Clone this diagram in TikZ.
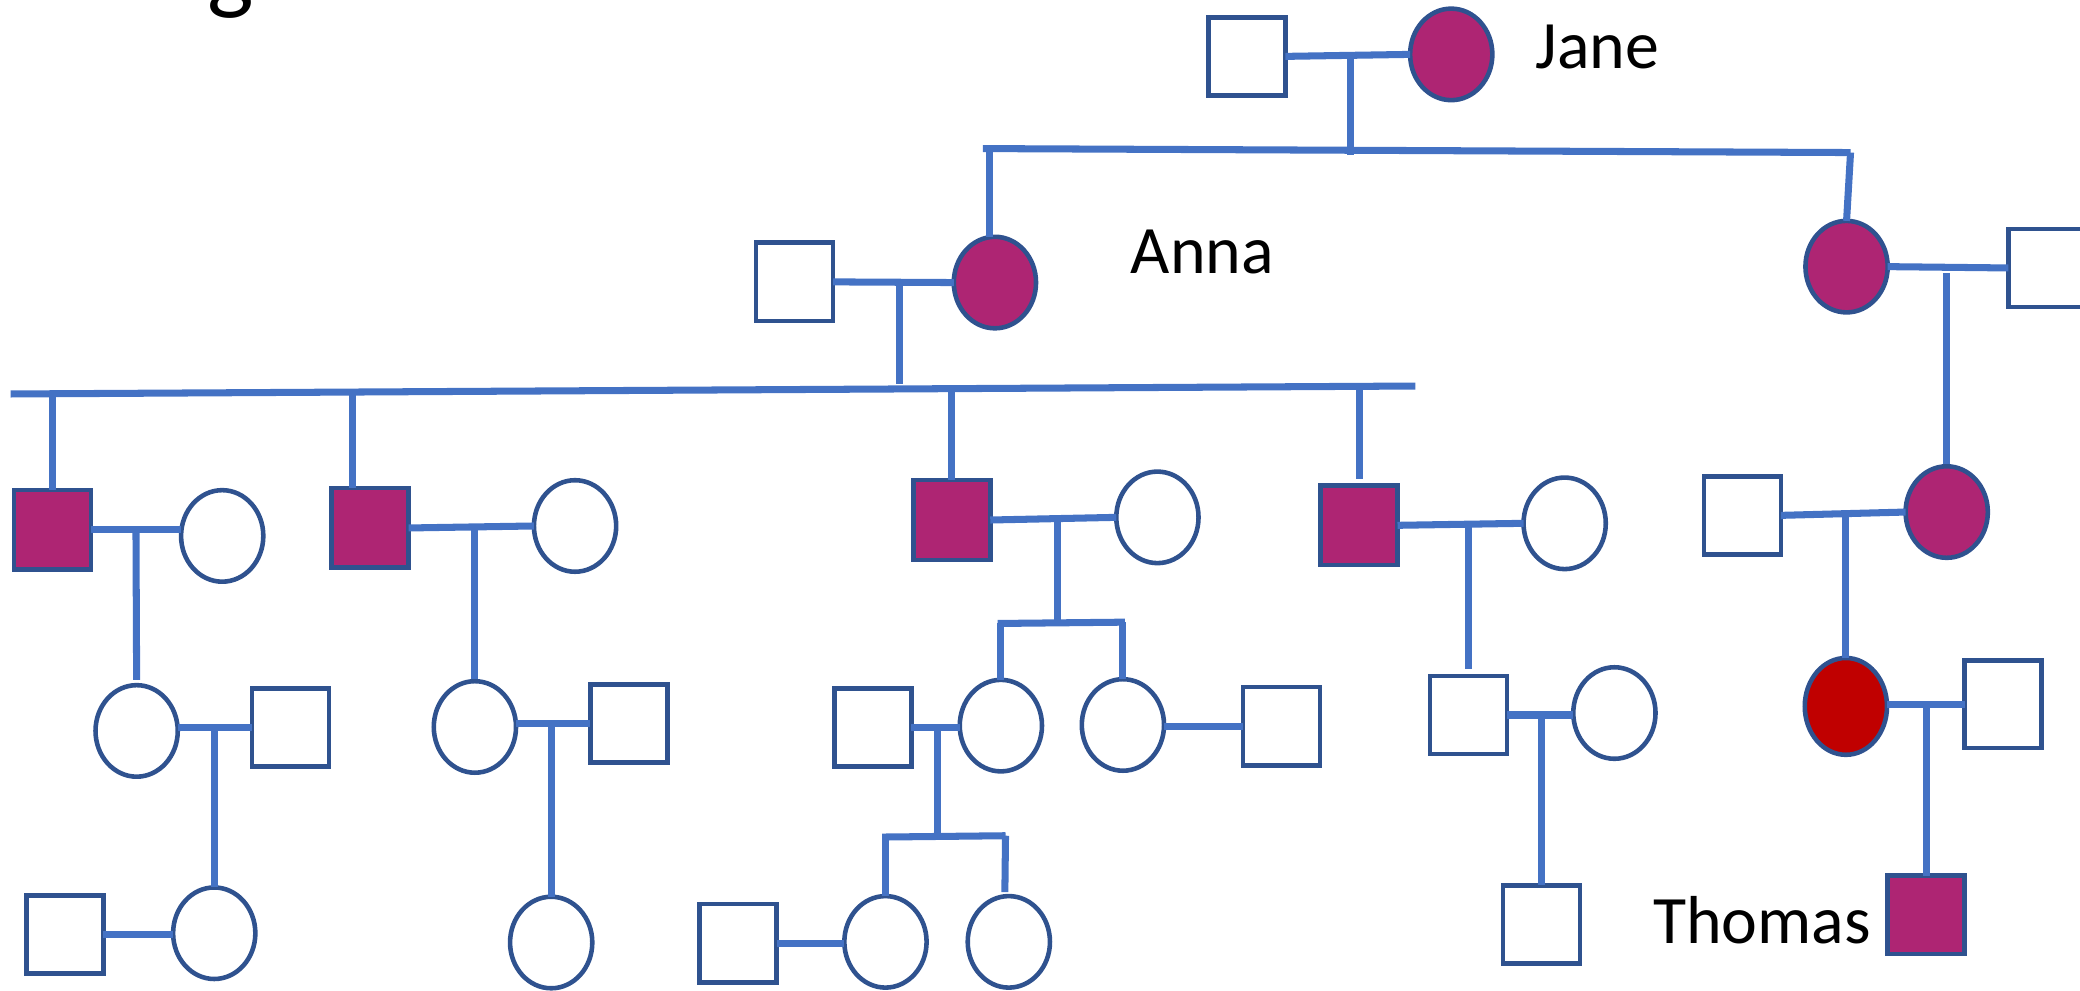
\documentclass[tikz,border=0pt]{standalone}
\usepackage{fontspec}
\setmainfont{Carlito}
\usetikzlibrary{shapes.geometric,calc}
\definecolor{linkblue}{HTML}{4472C4}
\definecolor{edgeblue}{HTML}{2F528F}
\definecolor{purplefill}{HTML}{AE2573}
\definecolor{probandred}{HTML}{C00000}
\newdimen\unitpx \unitpx=0.013265cm

\begin{document}
\begin{tikzpicture}[x=\unitpx, y=-\unitpx,
  male/.style={rectangle, draw=edgeblue, line width=1.3pt, fill=white,
    minimum width=58\unitpx, minimum height=59\unitpx, inner sep=0pt, outer sep=0pt},
  female/.style={ellipse, draw=edgeblue, line width=1.3pt, fill=white,
    minimum width=62\unitpx, minimum height=69\unitpx, inner sep=0pt, outer sep=0pt},
  affected/.style={fill=purplefill},
  link/.style={draw=linkblue, line width=2pt},
  personname/.style={font=\fontsize{19.3pt}{23pt}\selectfont, inner sep=0pt}]

\useasboundingbox (0,0) rectangle (1568,747);

% heading, mostly above the page
\node[anchor=base west, font=\fontsize{28pt}{32pt}\selectfont, inner sep=0pt] (heading) at (156,1.5) {g};

% ---- generation I
\node[male] (gIm) at (940,42.5) {};
\node[female,affected] (jane) at (1094,41) {};
\node[personname, anchor=base west] (janeL) at (1157,52) {Jane};

% ---- generation II
\node[male] (gIIm) at (599,212.5) {};
\node[female,affected] (anna) at (750,213) {};
\node[personname, anchor=base west] (annaL) at (852,206) {Anna};
\node[female,affected] (aunt) at (1392,201) {};
\node[male] (auntm) at (1543,202) {};

% ---- generation III
\node[male,affected,minimum height=60\unitpx] (c1) at (39.5,399.5) {};
\node[female] (c1w) at (167.5,404) {};
\node[male,affected,minimum height=60\unitpx] (c2) at (279,398) {};
\node[female] (c2w) at (433.5,396.5) {};
\node[male,affected,minimum height=60\unitpx] (c3) at (717.5,392) {};
\node[female] (c3w) at (872.5,390) {};
\node[male,affected,minimum height=60\unitpx] (c4) at (1024.5,396) {};
\node[female] (c4w) at (1179.5,394.5) {};
\node[male] (cousm) at (1313.5,388.5) {};
\node[female,affected] (cous) at (1467.5,386) {};

% ---- generation IV
\node[female] (d1) at (103,551) {};
\node[male] (d1h) at (219,548.5) {};
\node[female] (d2) at (358,548) {};
\node[male] (d2h) at (474,545.5) {};
\node[male] (d3h) at (658,548.5) {};
\node[female] (d3) at (754.5,547) {};
\node[female] (d4) at (846.5,546.5) {};
\node[male] (d4h) at (966,547.5) {};
\node[male] (d5) at (1107,539) {};
\node[female] (d5w) at (1217,537.5) {};
\node[female,fill=probandred,minimum height=73\unitpx] (mom) at (1391.5,532.5) {};
\node[male,minimum height=66\unitpx] (momh) at (1510,531) {};

% ---- generation V
\node[male] (e1h) at (49,704.5) {};
\node[female] (e1) at (161.5,703.5) {};
\node[female] (e2) at (415.5,710.5) {};
\node[male] (e3h) at (556.5,711) {};
\node[female] (e3) at (667.5,710) {};
\node[female] (e4) at (760.5,710) {};
\node[male] (e5) at (1162,697) {};
\node[male,affected] (thomas) at (1452,689.5) {};
\node[personname, anchor=base east] (thomasL) at (1411,711) {Thomas};

% ---- connectors, generation I
\draw[link] (gIm.east) -- (jane.west);
\coordinate (mI) at ($(gIm.east)!0.52!(jane.west)$);
\draw[link] (mI) -- ++(0,75);
\coordinate (sibIa) at (741,112);
\coordinate (sibIb) at (1395,115);
\draw[link] (sibIa) -- (sibIb);
\draw[link] ($(anna.north |- sibIa)+(-4,0)$) -- ($(anna.north)+(-4,0)$);
\draw[link] (sibIb) -- (aunt.north);

% ---- connectors, generation II
\draw[link] (gIIm.east) -- (anna.west);
\coordinate (mII) at ($(gIIm.east)!0.55!(anna.west)$);
\draw[link] (mII) -- ++(0,77);
\coordinate (sibIIa) at (8,297);
\coordinate (sibIIb) at (1067,291);
\draw[link] (sibIIa) -- (sibIIb);
\draw[link] (c1.north |- sibIIa) -- (c1.north);
\coordinate (c2up) at ($(c2.north)+(-13,0)$);
\draw[link] (c2up |- 0,295.5) -- (c2up);
\draw[link] (c3.north |- 0,293) -- (c3.north);
\draw[link] (c4.north |- 0,291.5) -- ($(c4.north)+(0,-5)$);
\draw[link] (aunt.east) -- (auntm.west);
\draw[link] (cous.north |- 0,206) -- ($(cous.north)+(0,-2)$);

% ---- connectors, generation III
\draw[link] (c1.east) -- (c1.east -| c1w.west);
\coordinate (mc1) at ($(c1.east)!0.5!(c1.east -| c1w.west)$);
\draw[link] (mc1) -- ($(d1.north)+(0,-4)$);
\draw[link] (c2.east) -- (c2w.west);
\draw[link] (d2.north |- c2.east) -- ($(d2.north)+(0,-2)$);
\draw[link] (c3.east) -- (c3w.west);
\coordinate (mc3) at ($(c3.east)!0.53!(c3w.west)$);
\coordinate (sibIIIa) at (752,470);
\coordinate (sibIIIb) at (848,469);
\draw[link] (mc3) -- (mc3 |- sibIIIa);
\draw[link] (sibIIIa) -- (sibIIIb);
\draw[link] (d3.north |- sibIIIa) -- (d3.north);
\draw[link] (d4.north |- sibIIIb) -- (d4.north);
\draw[link] (c4.east) -- (c4w.west);
\draw[link] (d5.north |- c4.east) -- ($(d5.north)+(0,-5)$);
\draw[link] (cousm.east) -- (cous.west);
\draw[link] (mom.north |- cousm.east) -- (mom.north);

% ---- connectors, generation IV
\draw[link] (d1.east |- d1h.west) -- (d1h.west);
\draw[link] (e1.north |- d1h.west) -- (e1.north);
\draw[link] (d2.east |- d2h.west) -- (d2h.west);
\draw[link] (e2.north |- d2h.west) -- (e2.north);
\draw[link] (d3h.east) -- (d3h.east -| d3.west);
\coordinate (md3) at ($(d3h.east)!0.55!(d3h.east -| d3.west)$);
\coordinate (sibIVa) at (665,631);
\coordinate (sibIVb) at (758,630);
\draw[link] (md3) -- (md3 |- sibIVa);
\draw[link] (sibIVa) -- (sibIVb);
\draw[link] (e3.north |- sibIVa) -- (e3.north);
\draw[link] (sibIVb) -- ($(e4.north)+(-3,-3)$);
\draw[link] (d4.east |- d4h.west) -- (d4h.west);
\draw[link] (d5.east) -- (d5.east -| d5w.west);
\draw[link] (e5.north |- d5.east) -- (e5.north);
\draw[link] (mom.east |- momh.west) -- (momh.west);
\draw[link] (thomas.north |- momh.west) -- (thomas.north);

% ---- connectors, generation V
\draw[link] (e1h.east) -- (e1h.east -| e1.west);
\draw[link] (e3h.east) -- (e3h.east -| e3.west);
\end{tikzpicture}
\end{document}
